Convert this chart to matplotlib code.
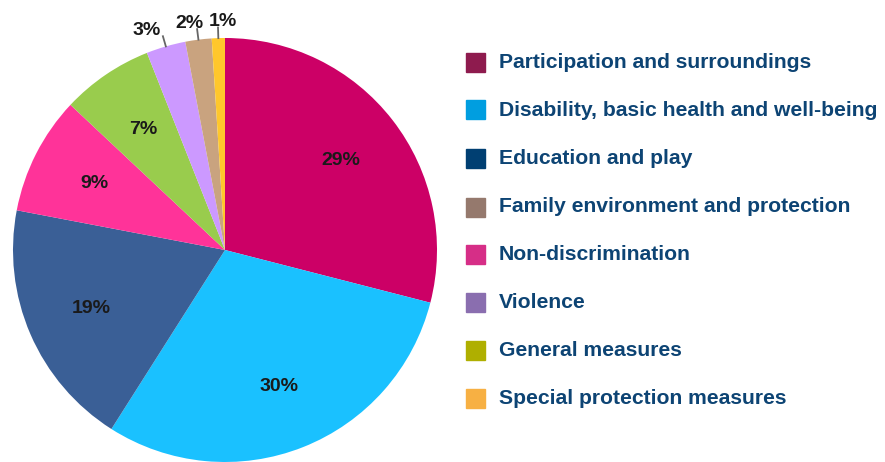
import numpy as np
import matplotlib.pyplot as plt
from matplotlib.patches import Rectangle

categories = ['Participation and surroundings',
              'Disability, basic health and well-being',
              'Education and play',
              'Non-discrimination',
              'General measures',
              'Violence',
              'Family environment and protection',
              'Special protection measures']
values = [29, 30, 19, 9, 7, 3, 2, 1]
pie_colors = ['#CC0066', '#1AC1FF', '#3A5F96', '#FF3399',
              '#99CC4D', '#CC99FF', '#C9A37F', '#FFC72C']

legend_labels = ['Participation and surroundings',
                 'Disability, basic health and well-being',
                 'Education and play',
                 'Family environment and protection',
                 'Non-discrimination',
                 'Violence',
                 'General measures',
                 'Special protection measures']
legend_colors = ['#8E1B4E', '#009EE0', '#003F72', '#95796D',
                 '#D62E87', '#8A6EAF', '#AFAF00', '#F7B043']

plt.rcParams['font.family'] = ['Liberation Sans', 'DejaVu Sans']

fig = plt.figure(figsize=(8.85, 4.62), dpi=100)
ax = fig.add_axes([13 / 885, 0, 424 / 885, 424 / 462])

wedges, _ = ax.pie(values, colors=pie_colors, startangle=90,
                   counterclock=False, radius=1.0)
ax.set_xlim(-1, 1)
ax.set_ylim(-1, 1)
ax.set_aspect('equal')

# percentage labels
outside_ha = {5: ('right', -0.01), 6: ('right', 0.03), 7: ('center', 0.025)}
for i, w in enumerate(wedges):
    mid = np.deg2rad((w.theta1 + w.theta2) / 2)
    txt = f'{values[i]}%'
    if values[i] >= 5:
        r = 0.69
        ax.text(r * np.cos(mid), r * np.sin(mid), txt, ha='center', va='center',
                fontsize=14, fontweight='bold', color='#1a1a1a')
    else:
        x0, y0 = 1.0 * np.cos(mid), 1.0 * np.sin(mid)
        x1, y1 = 1.05 * np.cos(mid), 1.05 * np.sin(mid)
        ax.plot([x0, x1], [y0, y1], color='#666666', lw=1.3, clip_on=False)
        ha, dx = outside_ha.get(i, ('center', 0.0))
        ax.text(x1 + dx, y1 - 0.012, txt, ha=ha, va='bottom', fontsize=14,
                fontweight='bold', color='#1a1a1a', clip_on=False)

# legend
W, H = 885, 462
row_y = [62, 110, 158, 207, 254, 302, 350, 398]
for lab, col, y in zip(legend_labels, legend_colors, row_y):
    fig.patches.append(Rectangle((466 / W, 1 - (y + 9.5) / H), 19 / W, 19 / H,
                                 transform=fig.transFigure, color=col))
    fig.text(499 / W, 1 - y / H, lab, ha='left', va='center', fontsize=15.2,
             fontweight='bold', color='#0D4474')

fig.savefig('out.png', dpi=100)
